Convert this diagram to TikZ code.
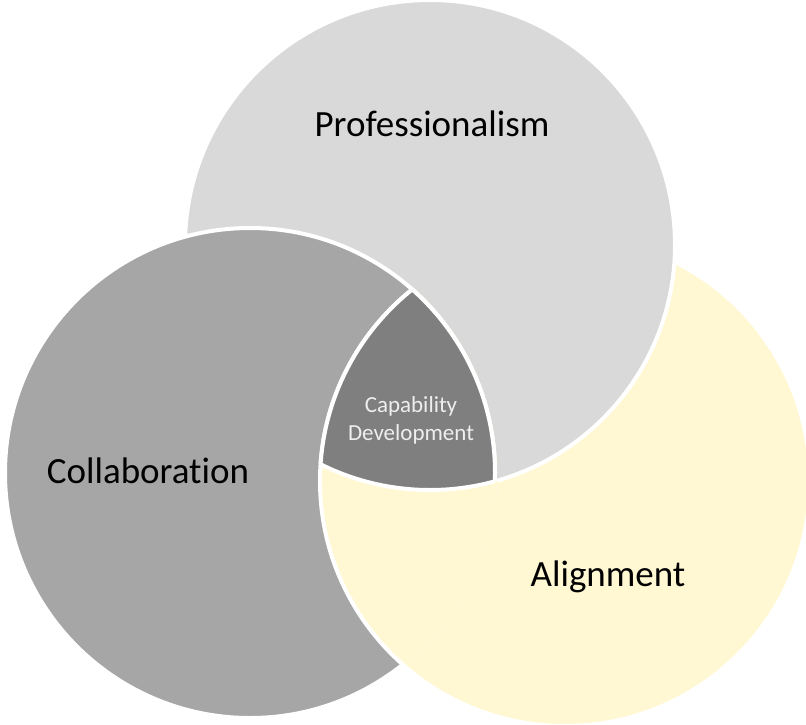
\documentclass[tikz,border=0pt]{standalone}
\usepackage{fontspec}
\setmainfont{Carlito}[Ligatures=NoCommon]
\definecolor{profcol}{HTML}{D9D9D9}
\definecolor{collcol}{HTML}{A6A6A6}
\definecolor{aligncol}{HTML}{FFF8D2}
\definecolor{capcol}{HTML}{7F7F7F}
\definecolor{captext}{HTML}{EEEEEE}
\begin{document}
\begin{tikzpicture}[x=1pt, y=-1pt,
  ring/.style={draw=white, line width=4pt},
  bigtext/.style={font=\fontsize{37}{44}\selectfont, text=black},
  smalltext/.style={font=\fontsize{23}{28}\selectfont, text=captext, align=center}]

  \useasboundingbox (0,0) rectangle (806,725);
  \def\rad{245}

  \coordinate (profc) at (430,245);
  \coordinate (collc) at (250,473);
  \coordinate (alignc) at (565,481);

  % Alignment, lowest layer
  \filldraw[ring, fill=aligncol] (alignc) circle [radius=\rad];
  % Professionalism over Alignment
  \filldraw[ring, fill=profcol] (profc) circle [radius=\rad];
  % Collaboration over Professionalism
  \filldraw[ring, fill=collcol] (collc) circle [radius=\rad];
  % Alignment again, over Collaboration
  \begin{scope}
    \clip (collc) circle [radius=247];
    \filldraw[ring, fill=aligncol] (alignc) circle [radius=\rad];
  \end{scope}

  % Capability Development, the middle piece
  \begin{scope}
    \clip (profc) circle [radius=\rad];
    \clip (collc) circle [radius=\rad];
    \filldraw[ring, fill=capcol] (alignc) circle [radius=\rad];
  \end{scope}
  \begin{scope}
    \clip (alignc) circle [radius=\rad];
    \clip (profc) circle [radius=\rad];
    \draw[ring] (collc) circle [radius=\rad];
  \end{scope}
  \begin{scope}
    \clip (alignc) circle [radius=\rad];
    \clip (collc) circle [radius=\rad];
    \draw[ring] (profc) circle [radius=\rad];
  \end{scope}

  % labels
  \node[bigtext] (prof) at (432,124) {Professionalism};
  \node[bigtext] (coll) at (148,471) {Collaboration};
  \node[bigtext] (align) at (608,577) {Alignment};
  \node[smalltext] (cap) at (411,420) {Capability\\Development};

\end{tikzpicture}
\end{document}
